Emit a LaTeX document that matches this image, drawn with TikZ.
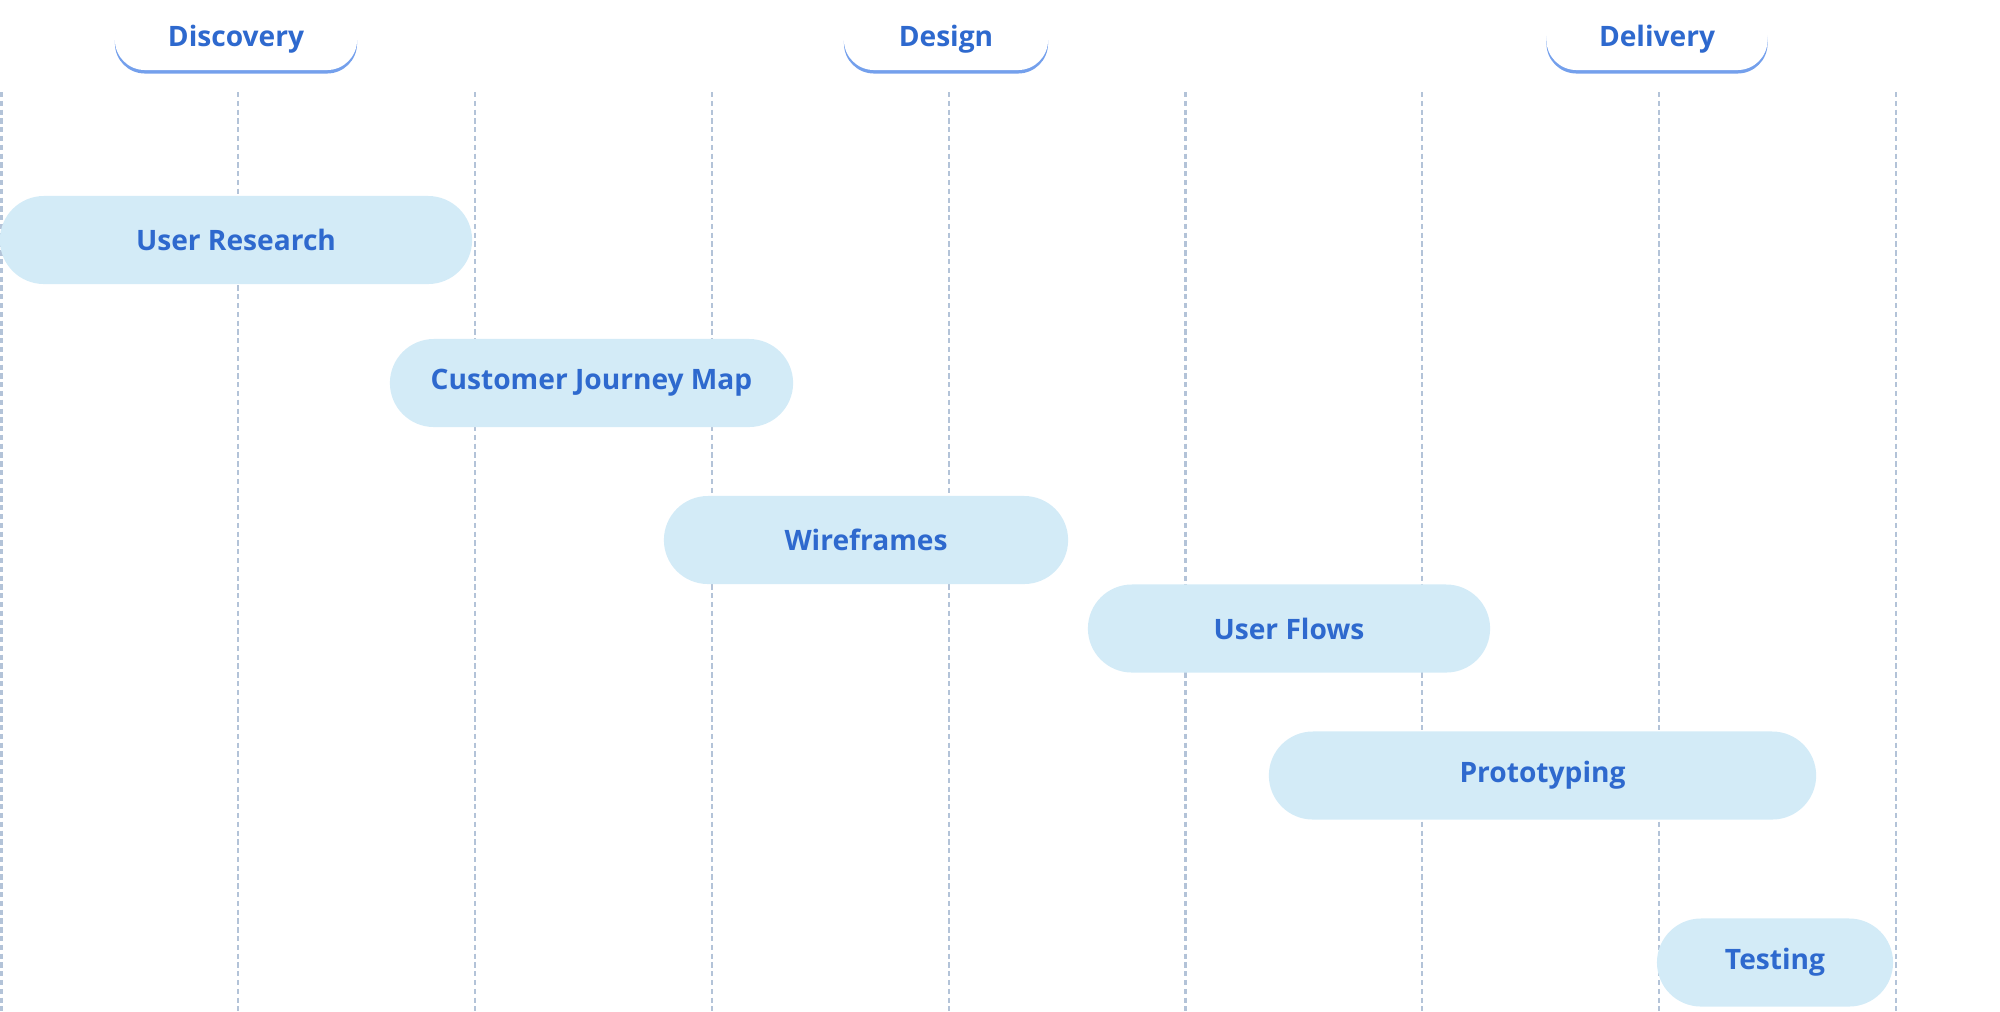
\documentclass[tikz,border=0pt]{standalone}
\usepackage{fontspec}
\setmainfont{Open Sans}
\usetikzlibrary{positioning,shadows}

\definecolor{barfill}{HTML}{D3EBF7}
\definecolor{labelblue}{HTML}{2E69CE}
\definecolor{gridgray}{HTML}{B3C3D8}
\definecolor{tabblue}{HTML}{74A0EC}

\tikzset{
  bar/.style={fill=barfill, rounded corners=0.44cm, minimum height=0.88cm,
    inner sep=0pt, text=labelblue, font=\fontsize{8}{10}\selectfont\bfseries},
  tab/.style={fill=white, rounded corners=0.3cm, minimum height=0.62cm, inner sep=0pt,
    text=labelblue, font=\fontsize{8}{10}\selectfont\bfseries,
    drop shadow={shadow xshift=0cm, shadow yshift=-0.035cm, fill=tabblue, opacity=1}},
  gridline/.style={gridgray, line width=0.65pt, dash pattern=on 1.5pt off 1pt}
}

\begin{document}
\begin{tikzpicture}[x=0.01cm, y=-0.01cm]
  \useasboundingbox (0,0) rectangle (2000,1011);

  % Column guides
  \foreach \i in {0,...,8} {
    \coordinate (top\i) at (1.5+236.8*\i, 92);
    \coordinate (bot\i) at (1.5+236.8*\i, 1011);
    \draw[gridline] (top\i) -- (bot\i);
  }

  % Phase tabs
  \node[tab, minimum width=2.42cm] (discovery) at (236,39) {Discovery};
  \node[tab, minimum width=2.04cm] (design) at (946,39) {Design};
  \node[tab, minimum width=2.21cm] (delivery) at (1657,39) {Delivery};

  % Activity bars
  \node[bar, minimum width=4.72cm] (research) at (236,240) {User Research};
  \node[bar, minimum width=4.03cm] (journey) at (591.5,383) {Customer Journey Map};
  \node[bar, minimum width=4.04cm] (wireframes) at (866,540) {Wireframes};
  \node[bar, minimum width=4.02cm] (flows) at (1289,628.5) {User Flows};
  \node[bar, minimum width=5.47cm] (prototyping) at (1542.5,775.5) {Prototyping};
  \node[bar, minimum width=2.36cm] (testing) at (1775,962.5) {Testing};

\end{tikzpicture}
\end{document}
